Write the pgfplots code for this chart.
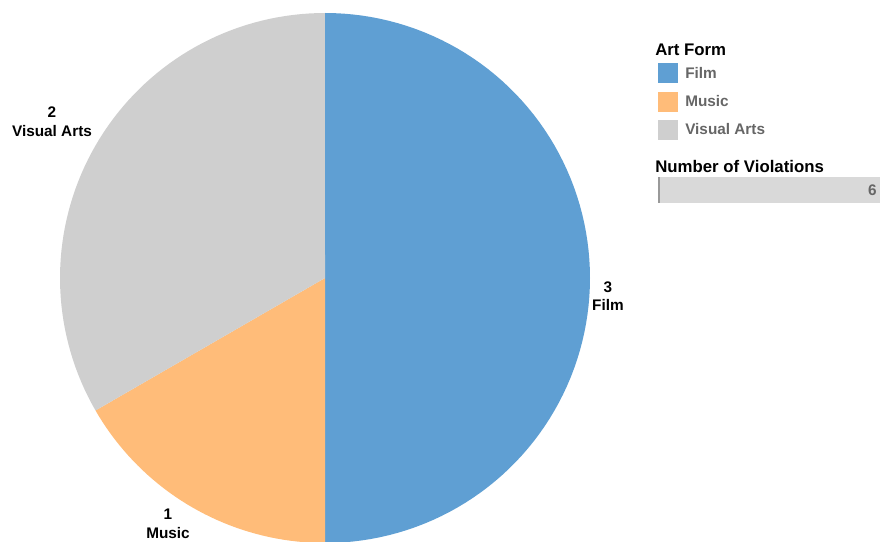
\documentclass[border=0pt]{standalone}
\usepackage{pgfplots}
\usepackage{pgfplotstable}
\usepackage{fontspec}
\setmainfont{Liberation Sans}
\pgfplotsset{compat=1.18}

\definecolor{film}{HTML}{5F9FD3}
\definecolor{music}{HTML}{FFBC79}
\definecolor{visual}{HTML}{CFCFCF}
\definecolor{legtext}{HTML}{666666}
\definecolor{barbg}{HTML}{D9D9D9}

% number of violations per art form
\pgfplotstableread{
name value
Film 3
Music 1
VisualArts 2
}\artdata

\begin{document}
\begin{tikzpicture}
\pgfplotstablegetelem{0}{value}\of\artdata \let\vFilm\pgfplotsretval
\pgfplotstablegetelem{1}{value}\of\artdata \let\vMusic\pgfplotsretval
\pgfplotstablegetelem{2}{value}\of\artdata \let\vVisual\pgfplotsretval
\pgfmathsetmacro{\total}{\vFilm+\vMusic+\vVisual}
\pgfmathsetmacro{\aA}{360*\vFilm/\total}
\pgfmathsetmacro{\aB}{\aA+360*\vMusic/\total}
\pgfmathsetmacro{\aC}{\aB+360*\vVisual/\total}
\pgfmathtruncatemacro{\totalint}{\total}
\begin{axis}[
    at={(0,0)}, anchor=south west,
    x=0.75pt, y=0.75pt,
    xmin=0, xmax=890, ymin=0, ymax=542,
    hide axis,
    clip=true,
    font=\bfseries,
]
% pie slices, angles clockwise from the top
\addplot[fill=film, draw=none, domain=0:\aA, samples=91, variable=\t]
    ({325+265*sin(\t)},{264+265*cos(\t)}) -- (325,264) -- cycle;
\addplot[fill=music, draw=none, domain=\aA:\aB, samples=41, variable=\t]
    ({325+265*sin(\t)},{264+265*cos(\t)}) -- (325,264) -- cycle;
\addplot[fill=visual, draw=none, domain=\aB:\aC, samples=71, variable=\t]
    ({325+265*sin(\t)},{264+265*cos(\t)}) -- (325,264) -- cycle;

% slice labels
\node[align=center, inner sep=0pt, font=\fontsize{11.5}{14}\bfseries] at (608,246) {\vFilm\\Film};
\node[align=center, inner sep=0pt, font=\fontsize{11.5}{14}\bfseries] at (168,18) {\vMusic\\Music};
\node[align=center, inner sep=0pt, font=\fontsize{11.5}{14}\bfseries] at (52,420) {\vVisual\\Visual Arts};

% legend
\node[anchor=base west, inner sep=0pt, font=\fontsize{12.6}{15}\bfseries] at (655,486) {Art Form};
\fill[film] (658,459) rectangle (678,479);
\fill[music] (658,430) rectangle (678,450);
\fill[visual] (658,402) rectangle (678,422);
\node[anchor=base west, inner sep=0pt, text=legtext, font=\fontsize{11.5}{14}\bfseries] at (685,463) {Film};
\node[anchor=base west, inner sep=0pt, text=legtext, font=\fontsize{11.5}{14}\bfseries] at (685,435) {Music};
\node[anchor=base west, inner sep=0pt, text=legtext, font=\fontsize{11.5}{14}\bfseries] at (685,407) {Visual Arts};

\node[anchor=base west, inner sep=0pt, font=\fontsize{12.6}{15}\bfseries] at (655,369) {Number of Violations};
\fill[barbg] (658,339) rectangle (880,365);
\fill[black!40] (658,339) rectangle (660,365);
\node[anchor=east, inner sep=0pt, text=legtext, font=\fontsize{11.5}{14}\bfseries] at (877,352) {\totalint};
\end{axis}
\pgfresetboundingbox
\path[use as bounding box] (0,0) rectangle (667.5pt,406.5pt);
\end{tikzpicture}
\end{document}
